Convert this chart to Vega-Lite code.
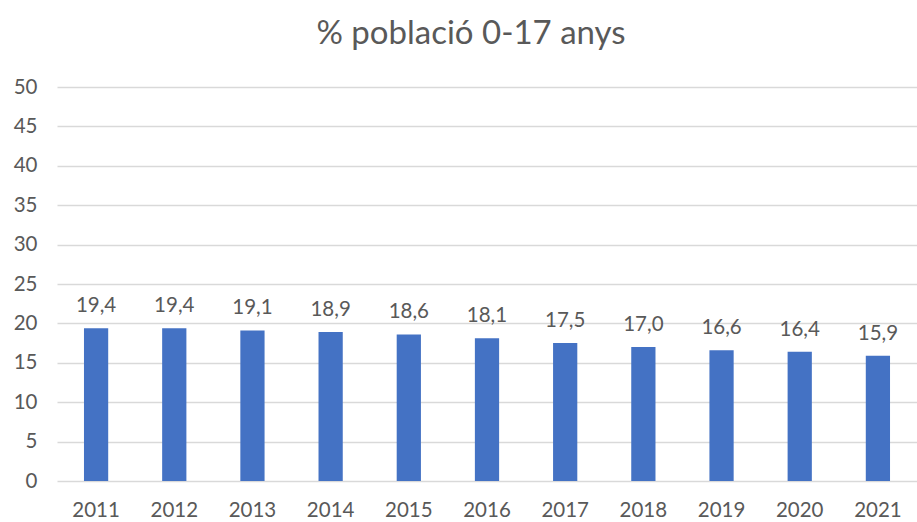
{
  "$schema": "https://vega.github.io/schema/vega-lite/v6.json",
  "autosize": "none",
  "padding": {"left": 57, "top": 87, "right": 0, "bottom": 41},
  "width": 860,
  "height": 394,
  "background": "white",
  "title": {
    "text": "% població 0-17 anys",
    "font": "Lato",
    "fontSize": 33,
    "fontWeight": "normal",
    "color": "#595959",
    "anchor": "middle",
    "offset": 26,
    "dx": -16
  },
  "data": {
    "values": [
      {"year": "2011", "value": 19.4},
      {"year": "2012", "value": 19.4},
      {"year": "2013", "value": 19.1},
      {"year": "2014", "value": 18.9},
      {"year": "2015", "value": 18.6},
      {"year": "2016", "value": 18.1},
      {"year": "2017", "value": 17.5},
      {"year": "2018", "value": 17.0},
      {"year": "2019", "value": 16.6},
      {"year": "2020", "value": 16.4},
      {"year": "2021", "value": 15.9}
    ]
  },
  "config": {
    "locale": {
      "number": {"decimal": ",", "thousands": ".", "grouping": [3], "currency": ["", " €"]}
    },
    "view": {"stroke": null},
    "axis": {"labelFont": "Lato", "labelFontSize": 20.5, "labelColor": "#595959"}
  },
  "encoding": {
    "x": {
      "field": "year",
      "type": "ordinal",
      "scale": {"paddingInner": 0.69, "paddingOuter": 0.345},
      "axis": {
        "title": null,
        "labelAngle": 0,
        "ticks": false,
        "domain": false,
        "labelPadding": 19
      }
    },
    "y": {
      "field": "value",
      "type": "quantitative",
      "scale": {"domain": [0, 50]},
      "axis": {
        "title": null,
        "values": [0, 5, 10, 15, 20, 25, 30, 35, 40, 45, 50],
        "ticks": false,
        "domain": false,
        "labelPadding": 20,
        "gridColor": "#d9d9d9",
        "gridWidth": 1.5
      }
    }
  },
  "layer": [
    {"mark": {"type": "bar", "color": "#4472C4"}},
    {
      "mark": {
        "type": "text",
        "font": "Lato",
        "fontSize": 20.5,
        "color": "#595959",
        "baseline": "alphabetic",
        "dy": -16
      },
      "encoding": {
        "text": {"field": "value", "type": "quantitative", "format": ".1f"}
      }
    }
  ]
}
